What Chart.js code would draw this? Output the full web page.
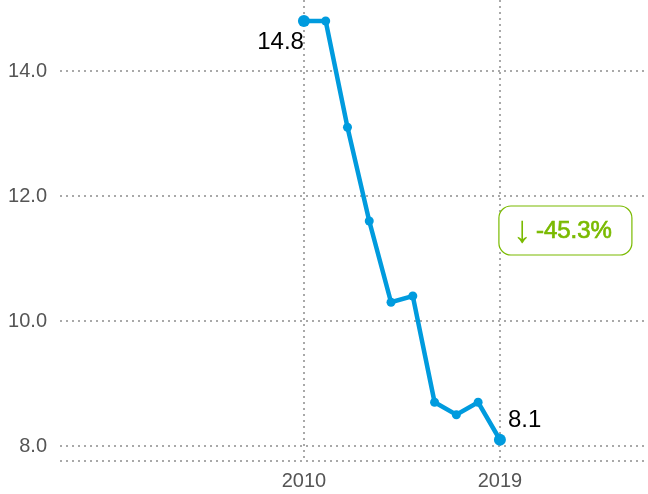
<!DOCTYPE html>
<html>
<head>
<meta charset="utf-8">
<script src="https://cdn.jsdelivr.net/npm/chart.js@4"></script>
<style>
  html, body { margin: 0; padding: 0; background: #fff; overflow: hidden; }
  /* the line dataset reserves 6px for the big end points on top and right;
     push that strip outside the window so the plot fills it */
  #wrap { position: absolute; left: 0; top: -6px; width: 654px; height: 500px; }
</style>
</head>
<body>
<div id="wrap"><canvas id="myChart"></canvas></div>
<script>
const years = [2010, 2011, 2012, 2013, 2014, 2015, 2016, 2017, 2018, 2019];
const values = [14.8, 14.8, 13.1, 11.6, 10.3, 10.4, 8.7, 8.5, 8.7, 8.1];
const xTicks = [2010, 2019];
const yTicks = [8, 10, 12, 14];
const changeLabel = '-45.3%';

const blue = 'rgb(0, 155, 222)';
const green = 'rgb(122, 186, 0)';
const dotted = '#a9a9a9';
const font = '"Liberation Sans", Arial, sans-serif';

const labelsPlugin = {
  id: 'labels',
  beforeDatasetsDraw(chart) {
    // dotted baseline under the plot
    const c = chart.ctx;
    const a = chart.chartArea;
    c.save();
    c.strokeStyle = dotted;
    c.lineWidth = 2;
    c.setLineDash([2, 4]);
    c.beginPath();
    c.moveTo(a.left, a.bottom - 1);
    c.lineTo(a.right, a.bottom - 1);
    c.stroke();
    c.restore();
  },
  afterDatasetsDraw(chart) {
    const c = chart.ctx;
    const meta = chart.getDatasetMeta(0);
    const first = meta.data[0];
    const last = meta.data[meta.data.length - 1];
    c.save();
    c.font = '24px ' + font;
    c.fillStyle = '#000';
    c.textBaseline = 'middle';
    c.textAlign = 'right';
    c.fillText(values[0].toFixed(1), first.x, first.y + 21);
    c.textAlign = 'left';
    c.fillText(values[values.length - 1].toFixed(1), last.x + 8, last.y - 19);

    // change badge
    const x = chart.scales.x;
    const y = chart.scales.y;
    const bx = x.getPixelForValue(years[years.length - 1]) - 1;
    const by = y.getPixelForValue(11.84);
    const bw = 133, bh = 49;
    c.beginPath();
    c.roundRect(bx, by, bw, bh, 12);
    c.fillStyle = '#fff';
    c.fill();
    c.lineWidth = 1.2;
    c.strokeStyle = green;
    c.stroke();
    c.fillStyle = green;
    c.textAlign = 'center';
    c.font = '38px ' + font;
    c.fillText('\u2193', bx + 23, by + bh / 2 + 1);
    c.textAlign = 'left';
    c.font = '24px ' + font;
    c.lineWidth = 0.7;
    c.fillText(changeLabel, bx + 37, by + bh / 2 + 1);
    c.strokeText(changeLabel, bx + 37, by + bh / 2 + 1);
    c.restore();
  }
};

const noPad = s => {
  s.paddingTop = 0; s.paddingBottom = 0; s.paddingLeft = 0; s.paddingRight = 0;
};

new Chart(document.getElementById('myChart'), {
  type: 'line',
  data: {
    datasets: [{
      data: years.map((yr, i) => ({ x: yr, y: values[i] })),
      borderColor: blue,
      backgroundColor: blue,
      borderWidth: 4.5,
      pointRadius: values.map((v, i) => (i === 0 || i === values.length - 1) ? 6 : 4.5),
      pointBorderWidth: 0,
      tension: 0,
      fill: false,
      clip: false
    }]
  },
  options: {
    responsive: true,
    maintainAspectRatio: false,
    animation: false,
    layout: { padding: 0 },
    plugins: { legend: { display: false }, tooltip: { enabled: false } },
    scales: {
      x: {
        type: 'linear',
        min: 1998.8,
        max: 2025.8,
        afterBuildTicks: s => { s.ticks = xTicks.map(v => ({ value: v })); },
        afterFit: s => { s.height = 32; noPad(s); },
        ticks: {
          padding: 7,
          color: '#555',
          font: { family: font, size: 20 },
          callback: v => String(v),
          maxRotation: 0,
          autoSkip: false
        },
        grid: { color: dotted, lineWidth: 2, drawTicks: false },
        border: { display: false, dash: [2, 4] }
      },
      y: {
        min: 7.744,
        max: 15.136,
        afterBuildTicks: s => { s.ticks = yTicks.map(v => ({ value: v })); },
        afterFit: s => { s.width = 60; noPad(s); },
        ticks: {
          padding: 13,
          color: '#555',
          font: { family: font, size: 20 },
          callback: v => Number(v).toFixed(1)
        },
        grid: { color: dotted, lineWidth: 2, drawTicks: false },
        border: { display: false, dash: [2, 4] }
      }
    }
  },
  plugins: [labelsPlugin]
});
</script>
</body>
</html>
